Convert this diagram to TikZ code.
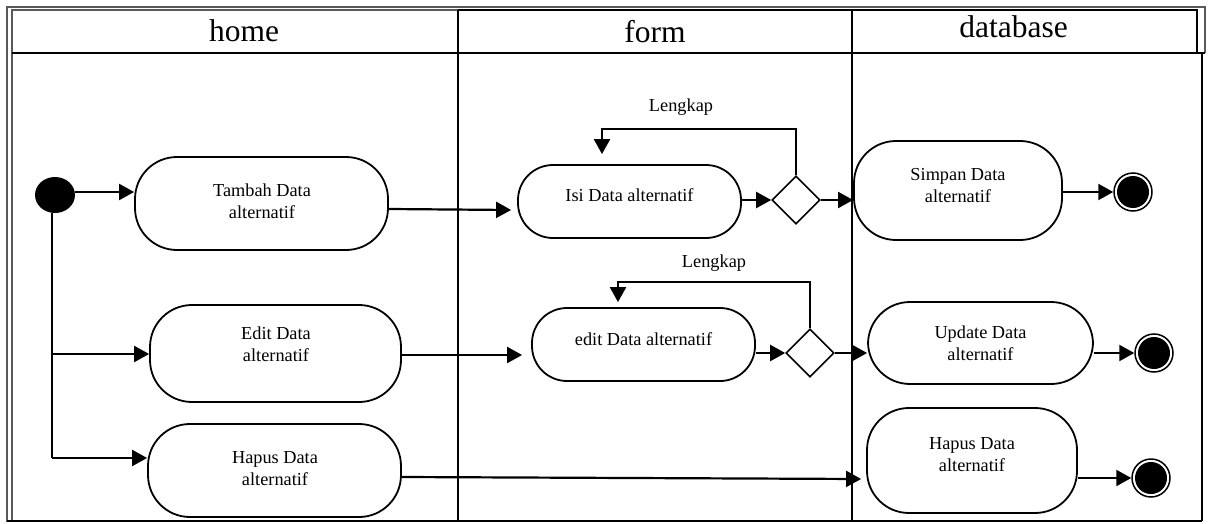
\documentclass[tikz,border=0pt]{standalone}
\usepackage{fontspec}
\setmainfont{Liberation Serif}
\usetikzlibrary{arrows.meta,shapes.geometric}
\begin{document}
\begin{tikzpicture}[x=1pt,y=-1pt,
 act/.style={draw,line width=1.8pt,rounded corners=42pt,inner sep=0pt},
 actsm/.style={draw,line width=1.8pt,rounded corners=35pt,inner sep=0pt},
 lbl/.style={font=\fontsize{18.3}{22}\selectfont,align=center,inner sep=0pt},
 hdr/.style={font=\fontsize{31.5}{36}\selectfont,inner sep=0pt,anchor=base},
 arr/.style={line width=2.2pt,-{Triangle[length=15pt,width=16pt]}},
 ln/.style={line width=2.2pt},
 dec/.style={diamond,draw,line width=1.6pt,minimum size=48pt,inner sep=0pt,aspect=1},
 lane/.style={line width=1.3pt},
 frame/.style={line width=1.2pt,black!65},
 endring/.style={circle,draw,line width=1.5pt,fill=white,minimum size=38pt,inner sep=0pt},
 enddot/.style={circle,fill=black,minimum size=32pt,inner sep=0pt},
]
\useasboundingbox (0,0) rectangle (1209,524);
% frame and lanes
\draw[frame] (7,522) -- (7,7) -- (1205,7) -- (1205,53);
\draw[frame] (12,522) -- (12,10) -- (458,10);
\draw[lane] (458,10) -- (1197,10) -- (1197,53);
\draw[lane] (12,53) -- (1205,53);
\draw[lane] (458,10) -- (458,521);
\draw[lane] (852,10) -- (852,521);
\draw[lane] (1202,53) -- (1202,521);
\draw[lane] (7,521) -- (1202,521);
\node[hdr] (hhome) at (244,42) {home};
\node[hdr] (hform) at (655,43) {form};
\node[hdr] (hdb) at (1013.5,38) {database};

% start
\node[ellipse,fill=black,minimum width=40pt,minimum height=36pt,inner sep=0pt] (start) at (55,195) {};

% home lane activities
\node[act,minimum width=253pt,minimum height=93pt] (tambah) at (261.5,203.5) {};
\node[lbl] (ttambah) at (262,201) {Tambah Data\\alternatif};
\node[act,minimum width=251pt,minimum height=97pt] (edit) at (275.5,353.5) {};
\node[lbl] (tedit) at (276,344) {Edit Data\\alternatif};
\node[act,minimum width=253pt,minimum height=93pt] (hapus) at (274.5,470.5) {};
\node[lbl] (thapus) at (275,468.5) {Hapus Data\\alternatif};

% form lane
\node[actsm,minimum width=223pt,minimum height=73pt] (isi) at (629.5,201.5) {};
\node[lbl] (tisi) at (629.5,195) {Isi Data alternatif};
\node[dec] (d1) at (796,200) {};
\node[lbl] (lk1) at (681,107) {Lengkap};
\node[actsm,minimum width=223pt,minimum height=73pt] (editd) at (643.5,344.5) {};
\node[lbl] (teditd) at (643.5,339) {edit Data alternatif};
\node[dec] (d2) at (810,353) {};
\node[lbl] (lk2) at (714,263) {Lengkap};

% database lane
\node[act,minimum width=208pt,minimum height=99pt] (simpan) at (958,190.5) {};
\node[lbl] (tsimpan) at (958,186) {Simpan Data\\alternatif};
\node[act,minimum width=225pt,minimum height=82pt] (update) at (980.5,343) {};
\node[lbl] (tupdate) at (980.5,343) {Update Data\\alternatif};
\node[act,minimum width=210pt,minimum height=105pt] (dbhapus) at (972,460.5) {};
\node[lbl] (tdbhapus) at (972,455) {Hapus Data\\alternatif};

% end nodes
\node[endring] (e1) at (1133,192) {};
\node[enddot] (e1c) at (e1) {};
\node[endring] (e2) at (1154,353) {};
\node[enddot] (e2c) at (e2) {};
\node[endring] (e3) at (1151,478) {};
\node[enddot] (e3c) at (e3) {};

% connectors
\coordinate (j2) at (52,354);
\coordinate (j3) at (52,458);
\draw[arr] ([yshift=3pt]start.east) -- ([yshift=11.5pt]tambah.west);
\draw[ln] ([xshift=-3pt]start.south) -- (j3);
\draw[arr] (j2) -- (j2 -| edit.west);
\draw[arr] (j3) -- (j3 -| hapus.west);

\draw[arr] ([yshift=-5.5pt]tambah.east) -- ([xshift=-6pt,yshift=-8.5pt]isi.west);
\draw[arr] (isi.east |- d1.west) -- (d1.west);
\coordinate (l1) at (602,129);
\draw[arr] (d1.north) |- (l1) -- ([yshift=10pt]isi.north -| l1);
\draw[arr] (d1.east) -- (d1.east -| simpan.west);
\draw[arr] (simpan.east |- e1) -- (e1.west);

\draw[arr] ([yshift=-1.5pt]edit.east) -- ([xshift=-9pt,yshift=-10.5pt]editd.west);
\draw[arr] (editd.east |- d2.west) -- (d2.west);
\coordinate (l2) at (618,282);
\draw[arr] (d2.north) |- (l2) -- ([yshift=5pt]editd.north -| l2);
\draw[arr] (d2.east) -- (d2.east -| update.west);
\draw[arr] (update.east |- e2) -- (e2.west);

\draw[arr] ([yshift=-6.5pt]hapus.east) -- ([xshift=-5pt,yshift=-18.5pt]dbhapus.west);
\draw[arr] (dbhapus.east |- e3) -- (e3.west);
\end{tikzpicture}
\end{document}
